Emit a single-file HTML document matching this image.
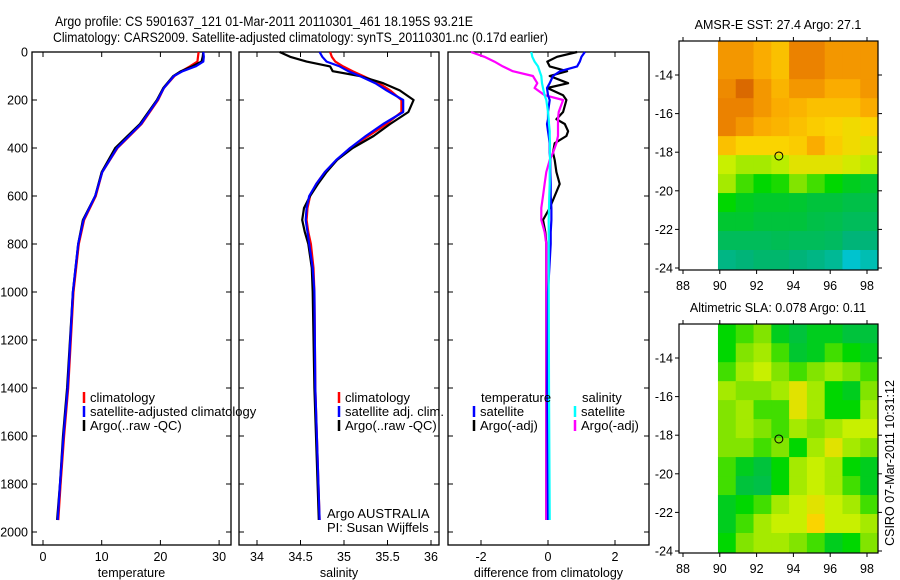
<!DOCTYPE html>
<html><head><meta charset="utf-8"><style>
html,body{margin:0;padding:0;background:#fff;}
svg{display:block;font-family:"Liberation Sans",sans-serif;}
</style></head><body>
<svg id="fig" width="900" height="580" viewBox="0 0 900 580" xmlns="http://www.w3.org/2000/svg">
<text x="55" y="26" font-size="14" textLength="418" lengthAdjust="spacingAndGlyphs">Argo profile: CS 5901637_121 01-Mar-2011 20110301_461 18.195S 93.21E</text>
<text x="53" y="42" font-size="14" textLength="495" lengthAdjust="spacingAndGlyphs">Climatology: CARS2009. Satellite-adjusted climatology: synTS_20110301.nc (0.17d earlier)</text>
<g id="plots"></g>
<text transform="translate(894,463) rotate(-90)" font-size="12.5" text-anchor="middle">CSIRO 07-Mar-2011 10:31:12</text>
</svg>
<script>
// ---- profile data ----
const tDepth = [0,20,40,60,80,100,150,200,300,400,500,600,700,800,1000,1400,1600,1800,1950];
const tArgo  = [27.3,27.2,27.0,25.4,23.5,22.2,20.5,19.4,16.5,12.3,10.0,8.9,6.8,6.0,5.1,4.1,3.4,2.9,2.4];
const tClim  = [26.5,26.4,26.3,25.0,23.6,22.4,20.6,19.6,16.8,12.7,10.1,9.0,7.0,6.1,5.2,4.3,3.6,3.0,2.6];
const tSat   = [27.3,27.4,27.3,26.0,23.8,22.3,20.6,19.5,16.7,12.6,10.1,8.9,6.9,6.0,5.1,4.2,3.5,2.9,2.5];
const sDepth = [0,20,40,60,80,100,130,160,200,250,300,350,400,450,500,550,600,650,700,750,800,900,1000,1400,1950];
const sArgo  = [34.26,34.38,34.57,34.84,34.87,35.18,35.45,35.64,35.80,35.74,35.53,35.34,35.10,34.92,34.80,34.70,34.61,34.54,34.52,34.55,34.59,34.63,34.64,34.66,34.71];
const sClim  = [34.84,34.86,34.90,34.99,35.10,35.22,35.40,35.53,35.66,35.66,35.49,35.28,35.07,34.92,34.78,34.68,34.61,34.58,34.57,34.59,34.62,34.65,34.66,34.67,34.72];
const sSat   = [34.72,34.75,34.80,34.95,35.05,35.18,35.36,35.49,35.68,35.68,35.45,35.25,35.07,34.91,34.78,34.68,34.60,34.57,34.56,34.58,34.60,34.64,34.66,34.67,34.72];
const dDepth = [0,20,40,60,80,100,130,150,180,200,250,280,300,330,350,380,420,450,500,550,600,650,700,750,800,1000,1400,1950];
const dTempSat  = [1.1,1.0,0.95,0.87,0.36,0.15,0.05,-0.03,0.0,0.05,0.0,0.0,-0.03,0.0,0.02,0.05,0.05,0.07,0.07,0.08,0.08,0.1,0.1,0.08,0.08,0.0,-0.02,0.0];
const dTempArgo = [0.87,0.27,-0.02,0.05,0.57,0.05,0.6,-0.02,0.45,0.55,0.45,0.25,0.5,0.6,0.55,0.2,0.15,0.2,0.25,0.35,0.2,0.05,-0.15,-0.08,-0.05,-0.05,-0.05,-0.05];
const dSalSat   = [-0.5,-0.47,-0.4,-0.3,-0.25,-0.2,-0.18,-0.15,-0.1,-0.05,0.0,0.02,0.03,0.05,0.05,0.06,0.06,0.06,0.05,0.05,0.04,0.03,0.02,0.02,0.02,0.02,0.03,0.05];
const dSalArgo  = [-2.3,-1.9,-1.6,-1.35,-1.05,-0.45,-0.32,-0.4,-0.1,0.45,0.32,0.3,0.3,0.3,0.3,0.25,0.15,0.05,-0.05,-0.1,-0.15,-0.2,-0.2,-0.1,-0.05,-0.05,-0.05,-0.05];
const depthTicks = [0,200,400,600,800,1000,1200,1400,1600,1800,2000];
const tempTicks = [0,10,20,30];
const salTicks = [34,34.5,35,35.5,36];
const salTickLabels = ["34","34.5","35","35.5","36"];
const diffTicks = [-2,0,2];
// ---- map data (rows top->bottom, lat -12.2..-24; cols lon 89.9..98.6) ----
const sstGrid = [
[.85,.85,.80,.75,.90,.90,.85,.85,.85],
[.85,.85,.80,.75,.90,.90,.85,.85,.85],
[.88,.95,.85,.78,.85,.85,.80,.80,.85],
[.90,.90,.85,.80,.78,.75,.75,.75,.80],
[.90,.85,.80,.78,.75,.72,.70,.68,.70],
[.75,.70,.70,.70,.72,.80,.72,.68,.65],
[.60,.55,.55,.58,.65,.65,.65,.62,.58],
[.55,.45,.40,.42,.50,.45,.40,.35,.32],
[.40,.35,.33,.33,.32,.30,.30,.28,.28],
[.32,.32,.30,.30,.30,.28,.27,.25,.25],
[.25,.25,.25,.26,.25,.25,.24,.20,.20],
[.18,.20,.22,.22,.20,.18,.15,.05,.10]];
const slaGrid = [
[.40,.45,.50,.35,.30,.35,.35,.30,.30],
[.40,.50,.55,.45,.32,.35,.45,.40,.35],
[.45,.55,.60,.50,.45,.50,.55,.50,.45],
[.55,.50,.50,.55,.65,.55,.40,.35,.50],
[.50,.55,.45,.45,.65,.55,.40,.40,.55],
[.50,.55,.50,.45,.55,.50,.55,.60,.60],
[.50,.50,.45,.50,.40,.55,.65,.55,.50],
[.45,.35,.30,.40,.55,.60,.55,.40,.35],
[.45,.30,.28,.40,.55,.60,.55,.45,.35],
[.35,.40,.45,.55,.60,.65,.60,.55,.45],
[.35,.45,.55,.60,.60,.70,.60,.60,.55],
[.40,.50,.55,.55,.50,.45,.35,.40,.50]];
const lonTicks = [88,90,92,94,96,98];
const latTicks = [-14,-16,-18,-20,-22,-24];
const argoLon = 93.21, argoLat = -18.195;

const NS="http://www.w3.org/2000/svg";
const root=document.getElementById('plots');
function mk(tag,attrs,parent){const e=document.createElementNS(NS,tag);for(const k in attrs)e.setAttribute(k,attrs[k]);(parent||root).appendChild(e);return e;}
function txt(x,y,s,size,anchor,parent){const t=mk('text',{x:x,y:y,'font-size':size,'text-anchor':anchor||'start'},parent);t.textContent=s;return t;}

const Y0=52, YS=0.24;
const yDepth=d=>Y0+d*YS;

function panel(name,x0,x1,xScale,ticks,labels,xlabel,series,showDepthLabels){
  const g=mk('g',{});
  
  
  const fr=mk('rect',{x:x0,y:52,width:x1-x0,height:493,fill:'none',stroke:'#000','stroke-width':1.3},g);
  
  
  depthTicks.forEach(d=>{
    const y=yDepth(d);
    mk('line',{x1:x0,x2:x0+5,y1:y,y2:y,stroke:'#000'},g);
    mk('line',{x1:x1-5,x2:x1,y1:y,y2:y,stroke:'#000'},g);
    if(showDepthLabels){const t=txt(x0-4,y+4.5,String(d),12.5,'end',g);
      
      }
  });
  ticks.forEach((v,i)=>{
    const x=xScale(v);
    mk('line',{x1:x,x2:x,y1:52,y2:57,stroke:'#000'},g);
    mk('line',{x1:x,x2:x,y1:540,y2:545,stroke:'#000'},g);
    const t=txt(x,561,labels[i],12.5,'middle',g);
    
    
  });
  const xl=txt((x0+x1)/2,577,xlabel,12.5,'middle',g);
  
  
  series.forEach(s=>{
    const pts=s.depth.map((d,i)=>xScale(s.vals[i]).toFixed(1)+','+yDepth(d).toFixed(1)).join(' ');
    const p=mk('polyline',{points:pts,fill:'none',stroke:s.color,'stroke-width':2.2,'stroke-linejoin':'round'},g);
    
    
  });
  return g;
}
function legend(g,x,y,color,label,name){
  mk('line',{x1:x,x2:x,y1:y-10,y2:y+1,stroke:color,'stroke-width':2.5},g);
  const t=txt(x+6,y,label,13,'start',g);
  
  
}
const xT=v=>43+v*5.87;
const g1=panel('temperature-panel',32,231,xT,tempTicks,tempTicks.map(String),'temperature',[
  {depth:tDepth,vals:tClim,color:'#f00',name:'temp-climatology-line'},
  {depth:tDepth,vals:tArgo,color:'#000',name:'temp-argo-line'},
  {depth:tDepth,vals:tSat,color:'#00f',name:'temp-satellite-line'}],true);
legend(g1,84,402,'#f00','climatology','legend-climatology');
legend(g1,84,416,'#00f','satellite-adjusted climatology','legend-satellite-adjusted');
legend(g1,84,430,'#000','Argo(..raw -QC)','legend-argo');
const xS=v=>257+(v-34)*87;
const g2=panel('salinity-panel',239,439,xS,salTicks,salTickLabels,'salinity',[
  {depth:sDepth,vals:sClim,color:'#f00',name:'sal-climatology-line'},
  {depth:sDepth,vals:sArgo,color:'#000',name:'sal-argo-line'},
  {depth:sDepth,vals:sSat,color:'#00f',name:'sal-satellite-line'}],false);
legend(g2,339,402,'#f00','climatology','legend-climatology');
legend(g2,339,416,'#00f','satellite adj. clim.','legend-satellite-adj');
legend(g2,339,430,'#000','Argo(..raw -QC)','legend-argo');
let t=txt(327,518,'Argo AUSTRALIA',13,'start',g2);
 
t=txt(327,532,'PI: Susan Wijffels',13,'start',g2);
 
const xD=v=>548+v*33.5;
const g3=panel('difference-panel',448,649,xD,diffTicks,diffTicks.map(String),'difference from climatology',[
  {depth:dDepth,vals:dTempArgo,color:'#000',name:'diff-temp-argo-line'},
  {depth:dDepth,vals:dSalArgo,color:'#f0f',name:'diff-sal-argo-line'},
  {depth:dDepth,vals:dTempSat,color:'#00f',name:'diff-temp-satellite-line'},
  {depth:dDepth,vals:dSalSat,color:'#0ff',name:'diff-sal-satellite-line'}],false);
t=txt(481,402,'temperature',13,'start',g3);
 
t=txt(582,402,'salinity',13,'start',g3);
 
legend(g3,474,416,'#00f','satellite','legend-temp-satellite');
legend(g3,474,430,'#000','Argo(-adj)','legend-temp-argo');
legend(g3,575,416,'#0ff','satellite','legend-sal-satellite');
legend(g3,575,430,'#f0f','Argo(-adj)','legend-sal-argo');

// colormap
const stops=[[0,[0,200,235]],[0.2,[0,180,120]],[0.3,[0,195,60]],[0.4,[0,215,0]],[0.5,[130,228,0]],[0.6,[200,240,0]],[0.7,[250,212,0]],[0.8,[250,172,0]],[0.9,[235,130,0]],[1,[200,80,0]]];
function cmap(v){for(let i=1;i<stops.length;i++){if(v<=stops[i][0]){const a=stops[i-1],b=stops[i],f=(v-a[0])/(b[0]-a[0]);return 'rgb('+a[1].map((c,k)=>Math.round(c+(b[1][k]-c)*f)).join(',')+')';}}return 'rgb(200,80,0)';}

function map(name,top,grid,title){
  const g=mk('g',{});
  
  
  const bottom=top+229;
  const xL=lon=>683+(lon-88)*18.4;
  const yL=lat=>top+34+(-14-lat)*19.3;
  const lat0=-12.25, lat1=-24.05, lon0=89.9, lon1=98.6;
  const nr=grid.length, nc=grid[0].length;
  grid.forEach((row,r)=>row.forEach((v,c)=>{
    const la=lat0+(lat1-lat0)*r/nr, lb=lat0+(lat1-lat0)*(r+1)/nr;
    const lo=lon0+(lon1-lon0)*c/nc, lp=lon0+(lon1-lon0)*(c+1)/nc;
    const cell=mk('rect',{x:xL(lo),y:yL(la),width:xL(lp)-xL(lo)+0.5,height:yL(lb)-yL(la)+0.5,fill:cmap(v)},g);
    
    
  }));
  mk('rect',{x:679,y:top,width:199,height:229,fill:'none',stroke:'#000','stroke-width':1.2},g);
  lonTicks.forEach(lo=>{const x=xL(lo);
    mk('line',{x1:x,x2:x,y1:top-4,y2:top,stroke:'#000'},g);
    mk('line',{x1:x,x2:x,y1:bottom,y2:bottom+4,stroke:'#000'},g);
    const tl=txt(x,bottom+20,String(lo),12.5,'middle',g);
     });
  latTicks.forEach(la=>{const y=yL(la);
    mk('line',{x1:675,x2:679,y1:y,y2:y,stroke:'#000'},g);
    mk('line',{x1:878,x2:882,y1:y,y2:y,stroke:'#000'},g);
    const tl=txt(673,y+4.5,String(la),12.5,'end',g);
     });
  const c=mk('circle',{cx:xL(argoLon),cy:yL(argoLat),r:4,fill:'none',stroke:'#000','stroke-width':1},g);
  
  
  const tt=txt(778,top-12,title,12.5,'middle',g);
  
  
}
map('sst-map',41,sstGrid,'AMSR-E SST: 27.4  Argo: 27.1');
map('sla-map',324,slaGrid,'Altimetric SLA: 0.078  Argo: 0.11');
</script>
</body></html>
